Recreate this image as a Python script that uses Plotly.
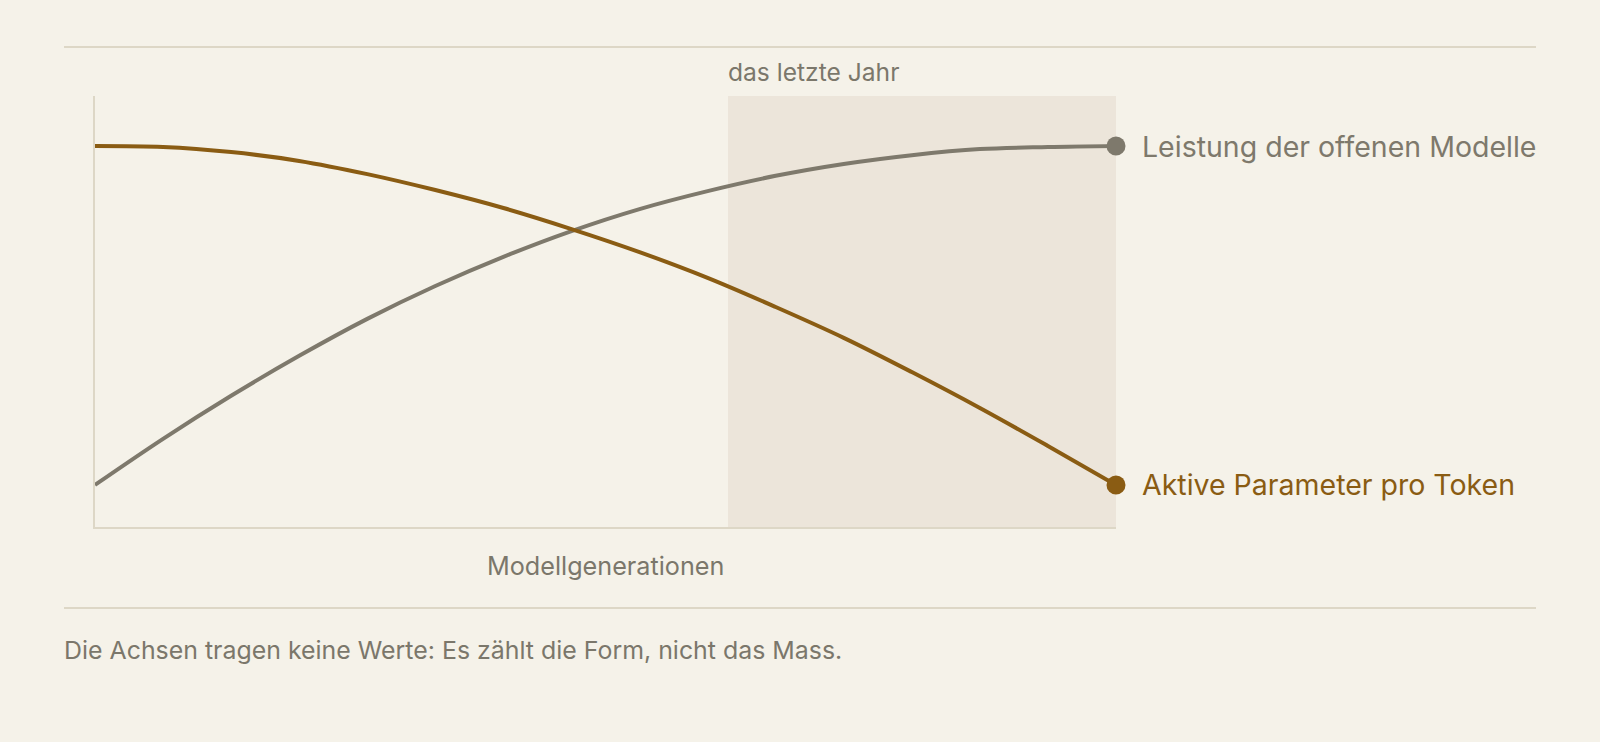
import plotly.graph_objects as go

# Data (axes carry no values)
generations = list(range(16))
leistung = [0, 13.6, 26.3, 38.1, 49.0, 58.7, 67.3, 74.9, 81.4, 86.7, 91.2, 94.7, 97.3, 99.1, 99.7, 100]
aktive_parameter = [100, 99.7, 98.2, 95.6, 91.7, 87.0, 81.7, 75.5, 68.7, 61.1, 52.5, 43.4, 33.3, 22.7, 11.5, 0]
series_names = ["Leistung der offenen Modelle", "Aktive Parameter pro Token"]
last_year_start = 9.3
x_title = "Modellgenerationen"
band_label = "das letzte Jahr"
caption = "Die Achsen tragen keine Werte: Es zählt die Form, nicht das Mass."

BG = "#f5f2e9"
BAND = "#ece5da"
RULE = "#ddd7c6"
GRAY = "#7e796c"
BROWN = "#8a5c13"
TEXT = "#7b776b"
FONT = "Inter"

W, H = 1600, 742
L, R, T, B = 95, 1116, 96, 527
pw, ph = R - L, B - T

def px_x(p):
    return (p - L) / pw

def px_y(p):
    return (B - p) / ph

fig = go.Figure()

for name, ys, col in [(series_names[0], leistung, GRAY), (series_names[1], aktive_parameter, BROWN)]:
    fig.add_trace(go.Scatter(
        x=generations, y=ys, mode="lines", name=name,
        line=dict(color=col, width=4, shape="spline", smoothing=1.0),
        hoverinfo="skip", showlegend=False,
    ))
    fig.add_trace(go.Scatter(
        x=[generations[-1]], y=[ys[-1]], mode="markers",
        marker=dict(color=col, size=19), hoverinfo="skip", showlegend=False,
        cliponaxis=False,
    ))
    fig.add_annotation(
        x=generations[-1], y=ys[-1], xref="x", yref="y",
        text=name, showarrow=False, xanchor="left", yanchor="middle",
        xshift=24, font=dict(family=FONT, size=28.5, color=col),
    )

fig.add_shape(type="rect", xref="x", yref="paper", x0=last_year_start, x1=generations[-1],
              y0=0, y1=1, fillcolor=BAND, line=dict(width=0), layer="below")

for yp in (47, 608):
    fig.add_shape(type="line", xref="paper", yref="paper",
                  x0=px_x(64), x1=px_x(1536), y0=px_y(yp), y1=px_y(yp),
                  line=dict(color=RULE, width=2))

fig.add_annotation(x=last_year_start, y=px_y(72), xref="x", yref="paper", text=band_label,
                   showarrow=False, xanchor="left", yanchor="middle", xshift=-2,
                   font=dict(family=FONT, size=24.6, color=TEXT))
fig.add_annotation(x=0.5, y=px_y(566), xref="paper", yref="paper", text=x_title,
                   showarrow=False, xanchor="center", yanchor="middle",
                   font=dict(family=FONT, size=25.2, color=TEXT))
fig.add_annotation(x=px_x(62), y=px_y(650), xref="paper", yref="paper", text=caption,
                   showarrow=False, xanchor="left", yanchor="middle",
                   font=dict(family=FONT, size=24.9, color=TEXT))

fig.update_layout(
    width=W, height=H,
    margin=dict(l=L, r=W - R, t=T, b=H - B, pad=0),
    paper_bgcolor=BG, plot_bgcolor=BG,
    xaxis=dict(range=[0, 15], showgrid=False, zeroline=False, showticklabels=False,
               ticks="", showline=True, linecolor=RULE, linewidth=2, fixedrange=True),
    yaxis=dict(range=[-12.4, 114.75], showgrid=False, zeroline=False, showticklabels=False,
               ticks="", showline=True, linecolor=RULE, linewidth=2, fixedrange=True),
    font=dict(family=FONT, color=TEXT),
)

fig.write_html(
    "out.html",
    config={"displayModeBar": False},
    post_script="document.body.style.margin='0';document.body.style.background='%s';" % BG,
)
